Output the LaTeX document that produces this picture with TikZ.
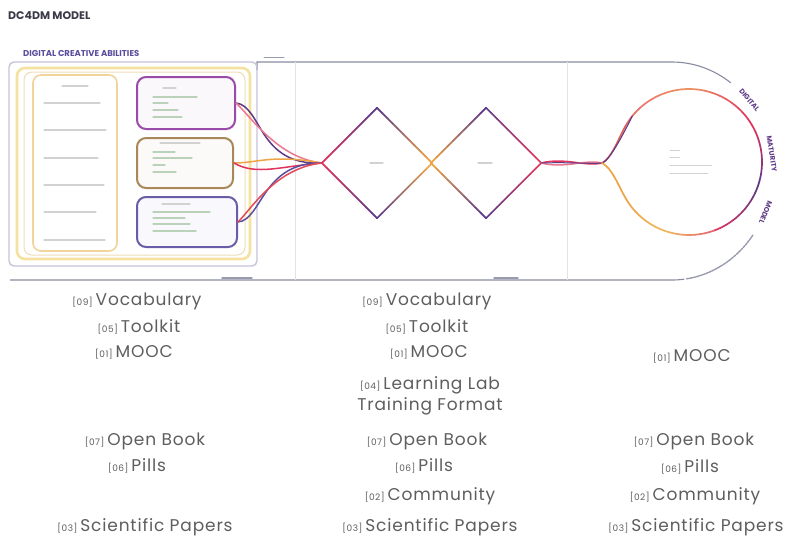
\documentclass[tikz,border=0pt]{standalone}
\usepackage{fontspec}
\setmainfont{Poppins}
\newfontfamily\lblfont{Poppins}[LetterSpace=5]
\usetikzlibrary{shapes.geometric,calc}
\definecolor{txt}{HTML}{5E5E5E}
\definecolor{ttl}{HTML}{3A3A48}
\definecolor{redA}{HTML}{E0335E}
\definecolor{pinkA}{HTML}{EC7890}
\definecolor{purA}{HTML}{5E3A86}
\definecolor{indA}{HTML}{5A4E9C}
\definecolor{orA}{HTML}{EDA445}
\definecolor{yelA}{HTML}{F5E2A0}
\definecolor{frameA}{HTML}{C9C3DC}
\definecolor{creamA}{HTML}{EEDCB8}
\definecolor{lcA}{HTML}{F0D49A}
\definecolor{magB}{HTML}{9A4AA8}
\definecolor{brnB}{HTML}{A88858}
\definecolor{indB}{HTML}{6B5CA8}
\definecolor{outA}{HTML}{6C6F8A}
\newcommand{\nm}[1]{{\fontsize{9}{10}\selectfont[#1]}\hspace{3pt}}
\newcommand{\gline}[4]{%
  \foreach \k in {0,...,9}{%
    \pgfmathsetmacro{\pa}{\k/10}%
    \pgfmathsetmacro{\pb}{(\k+1)/10}%
    \pgfmathtruncatemacro{\pc}{100-\k*100/9}%
    \draw[edge, color=#3!\pc!#4] ($(#1)!\pa!(#2)$) -- ($(#1)!\pb!(#2)$);
  }}
\newcommand{\garc}[4]{%
  \foreach \k in {0,...,9}{%
    \pgfmathsetmacro{\sa}{(#1)+((#2)-(#1))*\k/10}%
    \pgfmathsetmacro{\sb}{(#1)+((#2)-(#1))*(\k+1)/10}%
    \pgfmathtruncatemacro{\pc}{100-\k*100/9}%
    \draw[edge, color=#3!\pc!#4] ([shift={(\sa:73)}]ring.center) arc[start angle=\sa, end angle=\sb, radius=73];
  }}
\begin{document}
\begin{tikzpicture}[x=1pt,y=-1pt,
  edge/.style={line width=1.7pt, line cap=round},
  strand/.style={line width=1.5pt, line cap=round},
  ghost/.style={line width=1.1pt, color=gray!35, line cap=round},
  ghostg/.style={line width=1.1pt, color=green!20!gray!45, line cap=round},
  outline/.style={line width=1.1pt, color=outA!80},
  sep/.style={line width=0.8pt, color=gray!22},
  labstroke/.style={line width=1.4pt, color=outA!70, line cap=round},
  arcword/.style={inner sep=0, text=purA, font=\bfseries\fontsize{7}{8}\selectfont},
  box/.style={line width=2pt, rounded corners=9pt, inner sep=0},
  lbl/.style={inner sep=0, text=txt, font=\lblfont\fontsize{17}{21}\selectfont}]
\path[use as bounding box, fill=white] (0,0) rectangle (787,544);

% title
\node[anchor=west, inner sep=0, text=ttl, font=\bfseries\fontsize{11}{13}\selectfont] (title) at (8,16) {DC4DM MODEL};

% main outline
\coordinate (oc) at (672,171);
\draw[outline] (257,70) -- (257,62) -- (672,62) arc[start angle=-90, end angle=-54, x radius=100, y radius=109];
\node[arcword, rotate=-50] (w1) at ([shift={(-40:101 and 110)}]oc) {DIGITAL};
\node[arcword, rotate=-81] (w2) at ([shift={(-9:101 and 110)}]oc) {MATURITY};
\node[arcword, rotate=-112] (w3) at ([shift={(22:101 and 110)}]oc) {MODEL};
\draw[labstroke, dash pattern=on 2.5pt off 0.8pt] ([shift={(36:100 and 109)}]oc) arc[start angle=36, end angle=82, x radius=100, y radius=109];
\draw[outline] ([shift={(83:100 and 109)}]oc) arc[start angle=83, end angle=90, x radius=100, y radius=109] -- (10,280);

% separators and small labels
\draw[sep] (295,62) -- (295,280);
\draw[sep] (567,62) -- (567,280);
\draw[labstroke, line width=1pt] (264,57) -- (284,57);
\draw[labstroke] (222,278) -- (252,278);
\draw[labstroke] (494,278) -- (518,278);

% left block frames
\draw[frameA, line width=1.4pt, rounded corners=5pt] (9,62) rectangle (257,266);
\draw[yelA, line width=2.6pt, rounded corners=8pt] (17,68) rectangle (250,259);
\draw[creamA, line width=1pt, rounded corners=8pt] (24,72) rectangle (245,255);
\node[anchor=west, inner sep=0, text=indA, font=\bfseries\fontsize{8.5}{9}\selectfont] (dca) at (23,54) {DIGITAL CREATIVE ABILITIES};

\node[draw=lcA, line width=1.6pt, rounded corners=8pt, minimum width=84pt, minimum height=176pt, inner sep=0] (lc) at (75,163) {};
\draw[ghost] (62,86) -- (88,86);
\foreach \yy/\xe in {103/100,130/106,158/98,185/104,212/96,240/105}{\draw[ghost] (44,\yy) -- (\xe,\yy);}

\node[box, draw=magB, fill=magB!4, minimum width=98pt, minimum height=52pt] (b1) at (186,103) {};
\node[box, draw=brnB, fill=brnB!4, minimum width=96pt, minimum height=50pt] (b2) at (185,163) {};
\node[box, draw=indB, fill=indB!4, minimum width=100pt, minimum height=50pt] (b3) at (187,222) {};
\draw[ghost] (163,88) -- (176,88);
\foreach \yy/\xe in {97/197,103/168,110/178,117/182}{\draw[ghostg] (153,\yy) -- (\xe,\yy);}
\draw[ghost] (160,143) -- (200,143);
\foreach \yy/\xe in {152/175,158/192,165/165,172/176}{\draw[ghostg] (153,\yy) -- (\xe,\yy);}
\draw[ghost] (162,204) -- (190,204);
\foreach \yy/\xe in {212/210,218/185,224/190,231/196}{\draw[ghostg] (153,\yy) -- (\xe,\yy);}

% diamonds
\node[diamond, minimum width=110pt, minimum height=110pt, inner sep=0] (d1) at (377,163) {};
\node[diamond, minimum width=110pt, minimum height=110pt, inner sep=0] (d2) at (486,163) {};

% strands from boxes to first diamond
\draw[strand, purA] (b1.east) .. controls (262,106) and (258,166) .. (d1.west);
\draw[strand, pinkA] (b1.east) .. controls (252,118) and (278,158) .. (d1.west);
\draw[strand, orA] (b2.east) .. controls (258,163) and (272,154) .. (d1.west);
\draw[strand, redA] (b2.east) .. controls (256,176) and (282,166) .. (d1.west);
\draw[strand, indA] (b3.east) .. controls (262,220) and (262,162) .. (d1.west);
\draw[strand, redA!80!orA] (b3.east) .. controls (252,208) and (276,168) .. (d1.west);

\gline{d1.west}{d1.north}{redA}{purA}
\gline{d1.north}{d1.east}{purA}{orA}
\gline{d1.west}{d1.south}{redA}{purA}
\gline{d1.south}{d1.east}{purA}{orA}
\gline{d2.west}{d2.north}{orA}{purA}
\gline{d2.north}{d2.east}{purA}{redA}
\gline{d2.west}{d2.south}{orA}{purA}
\gline{d2.south}{d2.east}{purA}{redA}
\draw[ghost] (370,163) -- (383,163);
\draw[ghost] (478,163) -- (492,163);

% ring
\node[circle, minimum size=146pt, inner sep=0] (ring) at (689,162) {};
\coordinate (j) at (602,163);
\coordinate (rt) at ($(ring.center)+(-150:73)$);
\coordinate (rt2) at ($(ring.center)+(-141:73)$);
\coordinate (rb) at ($(ring.center)+(150:73)$);
\garc{-150}{-90}{redA!60!orA}{orA!60!pinkA}
\garc{-90}{-30}{orA!60!pinkA}{redA}
\garc{-30}{20}{redA}{purA}
\garc{20}{70}{purA}{redA}
\garc{70}{110}{redA}{orA!70!yelA}
\garc{110}{150}{orA!70!yelA}{orA}

\draw[strand, redA] (d2.east) .. controls (565,157) and (585,167) .. (j);
\draw[strand, pinkA] (d2.east) .. controls (565,169) and (585,159) .. (j);
\draw[strand, purA, line width=1pt] (d2.east) .. controls (570,162) and (590,164) .. (j);
\draw[edge, redA!60!orA] (j) .. controls +(10,-5) and +(-7.5,13) .. (rt);
\draw[strand, purA, line width=1.1pt] (j) .. controls +(8,-2) and +(-6,12) .. (rt2);
\draw[edge, orA] (j) .. controls +(10,5) and +(-7.5,-13) .. (rb);
\foreach \yy/\xe in {150/680,157/680,165/712,173/708}{\draw[ghost, line width=0.9pt] (670,\yy) -- (\xe,\yy);}

% bottom lists
\node[lbl] (v1) at (137,301) {\nm{09}Vocabulary};
\node[lbl] (t1) at (139,327) {\nm{05}Toolkit};
\node[lbl] (m1) at (134,352) {\nm{01}MOOC};
\node[lbl] (o1) at (145,441) {\nm{07}Open Book};
\node[lbl] (p1) at (137,466) {\nm{06}Pills};
\node[lbl] (s1) at (145,527) {\nm{03}Scientific Papers};

\node[lbl] (v2) at (427,301) {\nm{09}Vocabulary};
\node[lbl] (t2) at (427,327) {\nm{05}Toolkit};
\node[lbl] (m2) at (429,352) {\nm{01}MOOC};
\node[lbl, align=center] (l2) at (430,396) {\nm{04}Learning Lab\\Training Format};
\node[lbl] (o2) at (427,441) {\nm{07}Open Book};
\node[lbl] (p2) at (424,466) {\nm{06}Pills};
\node[lbl] (c2) at (430,496) {\nm{02}Community};
\node[lbl] (s2) at (430,527) {\nm{03}Scientific Papers};

\node[lbl] (m3) at (692,356) {\nm{01}MOOC};
\node[lbl] (o3) at (694,441) {\nm{07}Open Book};
\node[lbl] (p3) at (690,467) {\nm{06}Pills};
\node[lbl] (c3) at (695,496) {\nm{02}Community};
\node[lbl] (s3) at (696,527) {\nm{03}Scientific Papers};
\end{tikzpicture}
\end{document}
